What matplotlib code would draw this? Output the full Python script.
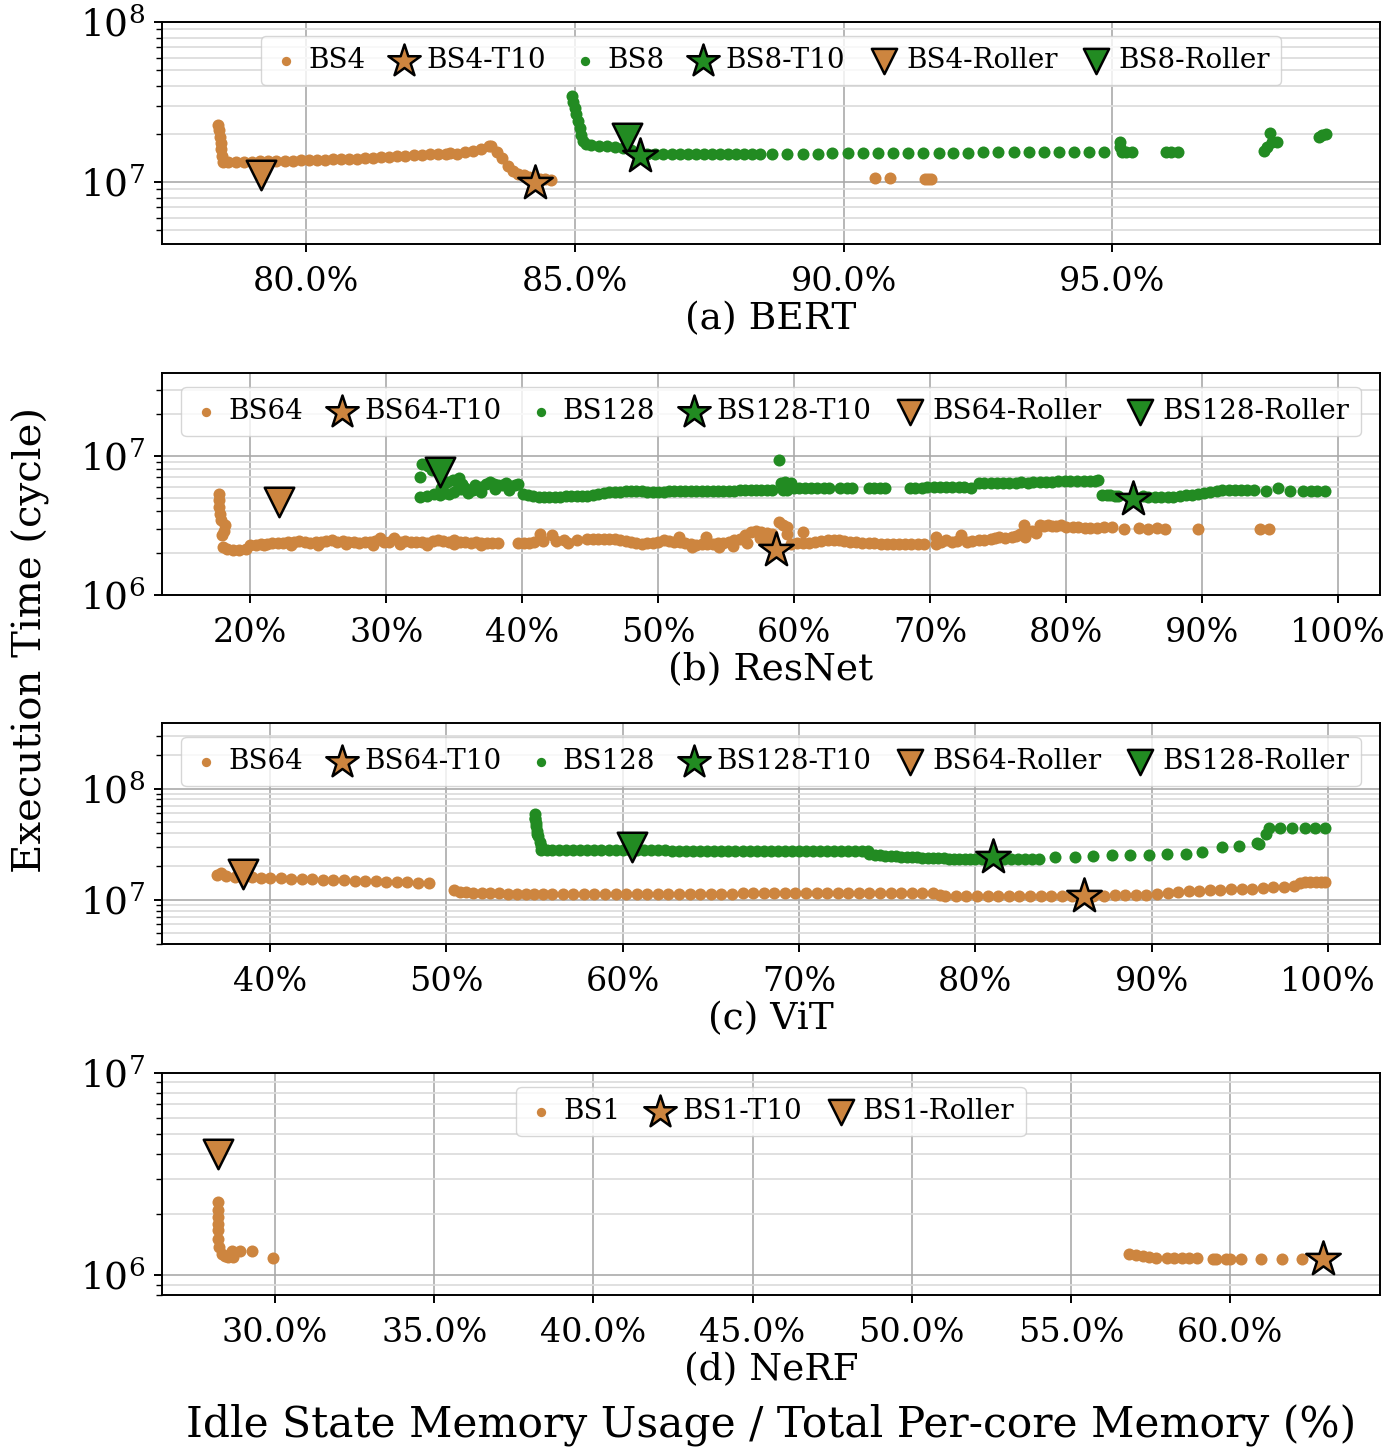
import matplotlib
matplotlib.use("Agg")
import matplotlib.pyplot as plt
from matplotlib.ticker import PercentFormatter, MultipleLocator, LogLocator, LogFormatterMathtext, NullFormatter

plt.rcParams['font.family'] = ['DejaVu Serif']
plt.rcParams['mathtext.fontset'] = 'dejavuserif'

ORANGE = '#CD853F'
GREEN = '#228B22'

# ---------------- (a) BERT ----------------  (y in millions of cycles)
bert_bs4_x = [78.36, 78.38, 78.40, 78.41, 78.42, 78.43, 78.45, 78.55, 78.70, 78.85, 79.00, 79.15, 79.30,
              79.45, 79.60, 79.75, 79.90, 80.05, 80.20, 80.35, 80.50, 80.65, 80.80, 80.95, 81.10, 81.25,
              81.40, 81.55, 81.70, 81.85, 82.00, 82.15, 82.30, 82.45, 82.60, 82.68, 82.80, 82.95, 83.10,
              83.25, 83.40, 83.45, 83.55, 83.65, 83.75, 83.85, 83.95, 84.05, 84.15, 84.25, 84.35, 84.45,
              84.55, 90.58, 90.86, 91.52, 91.58, 91.63]
bert_bs4_y = [22.8, 21.0, 19.2, 17.5, 16.0, 14.6, 13.4, 13.3, 13.35, 13.4, 13.4, 13.45, 13.5,
              13.5, 13.55, 13.6, 13.65, 13.7, 13.75, 13.8, 13.85, 13.9, 13.95, 14.0, 14.1, 14.2,
              14.3, 14.4, 14.5, 14.6, 14.7, 14.8, 14.9, 15.0, 15.05, 15.1, 15.0, 15.3, 15.7,
              16.2, 16.8, 16.9, 15.5, 14.1, 12.6, 11.7, 11.3, 11.0, 10.8, 10.6, 10.5, 10.4,
              10.35, 10.6, 10.6, 10.5, 10.5, 10.5]
bert_bs8_x = [84.94, 84.97, 85.00, 85.03, 85.06, 85.09, 85.12, 85.15, 85.20, 85.30, 85.45, 85.60, 85.75,
              85.90, 86.05, 86.20, 86.35, 86.50, 86.65, 86.80, 86.95, 87.10, 87.25, 87.40, 87.55, 87.70,
              87.85, 88.00, 88.15, 88.30, 88.45, 88.66, 88.95, 89.24, 89.52, 89.79, 90.08, 90.36, 90.64,
              90.92, 91.20, 91.48, 91.77, 92.04, 92.32, 92.60, 92.88, 93.17, 93.45, 93.72, 94.01, 94.29,
              94.56, 94.84, 95.15, 95.15, 95.18, 95.26, 95.37, 95.99, 96.10, 96.22, 97.82, 97.88, 97.94,
              97.97, 98.07, 98.84, 98.91, 98.97]
bert_bs8_y = [34.4, 31.5, 29.0, 26.5, 24.0, 21.8, 19.7, 18.0, 17.2, 17.0, 16.8, 16.7, 16.6,
              16.4, 15.8, 15.1, 15.0, 15.0, 15.0, 15.0, 15.0, 15.0, 15.0, 15.0, 15.0, 15.0,
              15.0, 15.0, 15.0, 15.0, 15.0, 15.0, 15.0, 15.05, 15.05, 15.1, 15.1, 15.1, 15.15,
              15.15, 15.2, 15.2, 15.2, 15.25, 15.25, 15.3, 15.3, 15.3, 15.35, 15.35, 15.4, 15.4,
              15.45, 15.45, 17.9, 16.6, 15.5, 15.5, 15.5, 15.5, 15.5, 15.5, 15.7, 16.6, 20.2,
              17.9, 17.9, 19.2, 19.7, 20.0]
bert_t10_x = [84.26, 86.22]
bert_t10_y = [9.9, 14.6]
bert_roller_x = [79.16, 85.98]
bert_roller_y = [11.1, 18.8]

# ---------------- (b) ResNet ----------------
resnet_bs64_x = [17.66, 17.69, 17.72, 17.78, 17.87, 18.10, 18.08, 17.95, 18.02, 18.30, 18.75, 19.20, 19.65, 20.00,
                 20.4, 20.8, 21.2, 21.6, 22.0, 22.4, 22.8, 23.2, 23.6, 24.0, 24.4, 24.8, 25.2, 25.6, 26.0,
                 26.4, 26.8, 27.2, 27.6, 28.0, 28.4, 28.8, 29.2, 29.5, 29.8, 30.2, 30.6, 31.0, 31.4, 31.8,
                 32.2, 32.6, 33.0, 33.4, 33.8, 34.2, 34.6, 35.0, 35.4, 35.8, 36.2, 36.6, 37.0, 37.4, 37.8, 38.2,
                 21.0, 23.0, 25.0, 27.0, 29.0, 31.0, 33.0, 35.0, 37.0,
                 39.7, 40.1, 40.5, 40.9, 41.28, 41.5, 42.19, 42.5, 43.1, 43.4, 44.0,
                 44.8, 45.2, 45.6, 46.0, 46.4, 46.8, 47.2, 47.6, 48.0, 48.4, 48.8, 49.2, 49.6, 50.0, 50.4,
                 50.8, 51.2, 51.6, 52.0, 52.4, 52.8, 53.2, 53.6, 54.0, 54.4, 54.8, 55.2, 55.6, 56.0, 56.4,
                 56.8, 57.2, 57.6, 58.0, 58.4, 58.9, 59.2, 59.46, 59.46,
                 51.5, 52.5, 53.5, 54.5, 55.5, 56.5, 57.5, 58.0, 58.5,
                 59.8, 60.2, 60.66, 60.66, 61.1, 61.57, 62.0, 62.47, 62.9, 63.3, 63.7, 64.1, 64.58, 65.0,
                 65.48, 65.9, 66.39, 66.8, 67.29, 67.7, 68.19, 68.6, 69.1, 69.55,
                 70.45, 70.45, 70.8, 71.2, 71.6, 72.0, 72.26, 72.7, 73.1, 73.6, 74.0, 74.5, 74.8, 75.1,
                 75.5, 76.0, 76.3, 76.6, 76.9, 77.0, 77.2, 77.5, 77.8, 78.1, 78.4, 78.7, 79.0, 79.3, 79.6,
                 80.0, 80.5, 80.9, 81.4, 81.8, 82.3, 82.8, 83.4, 84.3, 85.4, 86.0, 86.7, 87.3, 89.7,
                 94.25, 94.95]
resnet_bs64_y = [5.37, 4.8, 4.3, 3.85, 3.45, 3.17, 2.9, 2.69, 2.21, 2.13, 2.09, 2.09, 2.13, 2.27,
                 2.30, 2.32, 2.34, 2.36, 2.37, 2.35, 2.40, 2.42, 2.45, 2.40, 2.38, 2.42, 2.40, 2.44, 2.50,
                 2.42, 2.45, 2.42, 2.40, 2.38, 2.42, 2.40, 2.45, 2.55, 2.42, 2.40, 2.55, 2.42, 2.45, 2.40,
                 2.42, 2.40, 2.38, 2.45, 2.48, 2.45, 2.42, 2.48, 2.42, 2.40, 2.38, 2.40, 2.37, 2.37, 2.36, 2.36,
                 2.27, 2.30, 2.30, 2.32, 2.30, 2.32, 2.30, 2.32, 2.30,
                 2.36, 2.37, 2.38, 2.40, 2.76, 2.45, 2.72, 2.45, 2.47, 2.36, 2.47,
                 2.54, 2.54, 2.54, 2.54, 2.52, 2.51, 2.48, 2.45, 2.40, 2.36, 2.34, 2.36, 2.38, 2.42, 2.50,
                 2.45, 2.42, 2.40, 2.36, 2.32, 2.28, 2.32, 2.34, 2.34, 2.36, 2.38, 2.40, 2.48, 2.54, 2.70,
                 2.85, 2.90, 2.85, 2.80, 2.76, 3.35, 3.20, 3.09, 2.76,
                 2.62, 2.22, 2.62, 2.22, 2.25, 2.35, 2.55, 2.45, 2.40,
                 2.34, 2.36, 2.84, 2.36, 2.38, 2.40, 2.44, 2.47, 2.50, 2.48, 2.45, 2.42, 2.40, 2.38,
                 2.36, 2.35, 2.34, 2.33, 2.31, 2.31, 2.31, 2.32, 2.34, 2.34,
                 2.60, 2.34, 2.40, 2.47, 2.40, 2.45, 2.69, 2.40, 2.45, 2.47, 2.50, 2.54, 2.55, 2.60,
                 2.58, 2.60, 2.65, 2.76, 3.17, 2.60, 2.90, 2.90, 2.80, 3.17, 3.15, 3.17, 3.15, 3.12, 3.17,
                 3.10, 3.09, 3.07, 3.05, 3.05, 3.05, 3.07, 3.09, 3.00, 3.05, 3.00, 3.05, 3.00, 3.00,
                 2.97, 2.97]
resnet_bs128_x = [32.46, 32.46, 32.6, 33.07, 33.37, 33.0, 33.5, 33.98, 34.3, 34.6, 34.9, 35.1, 35.35, 35.6,
                  35.8, 36.1, 36.4, 36.7, 37.0, 37.3, 37.6, 37.9, 38.2, 38.5, 38.8, 39.1, 39.45, 39.7,
                  34.0, 35.0, 36.0, 37.0, 38.0, 39.0, 36.5, 34.5, 35.5,
                  40.06, 40.4, 40.8, 41.2, 41.6, 42.0, 42.4, 42.8, 43.2, 43.6, 44.0, 44.4, 44.8, 45.2, 45.6,
                  46.0, 46.4, 46.8, 47.2, 47.6, 48.0, 48.4, 48.8, 49.2, 49.6, 50.0, 50.4, 50.8, 51.2, 51.6,
                  52.0, 52.4, 52.8, 53.2, 53.6, 54.0, 54.4, 54.8, 55.2, 55.6, 56.0, 56.4, 56.8, 57.2, 57.6,
                  58.0, 58.4, 58.9, 59.06, 59.2, 59.3, 59.76, 59.5,
                  60.0, 60.36, 60.8, 61.27, 61.7, 62.17, 62.6, 63.37, 63.9, 64.28, 65.48, 65.9, 66.3, 66.69,
                  68.49, 68.9, 69.4, 69.8, 70.3, 70.7, 71.2, 71.6, 72.1, 72.5, 73.0, 73.6, 74.0, 74.5,
                  74.9, 75.4, 75.8, 76.3, 76.7, 77.2, 77.6, 78.1, 78.5, 79.0, 79.4, 79.9, 80.3, 80.8,
                  81.3, 81.75, 82.1, 82.35,
                  82.65, 83.0, 83.25, 83.6, 83.86, 85.66, 86.0, 86.57, 87.0, 87.47, 87.9, 88.37, 88.8,
                  89.28, 89.7, 90.18, 90.6, 91.08, 91.5, 91.99, 92.4, 92.89, 93.3, 93.8, 94.7, 95.6, 96.5,
                  97.4, 98.0, 98.5, 99.07]
resnet_bs128_y = [5.08, 7.09, 8.7, 8.5, 7.92, 5.15, 5.30, 5.22, 5.45, 5.37, 6.71, 6.6, 6.9, 6.3,
                  5.84, 5.6, 5.68, 5.9, 6.0, 6.3, 6.52, 6.3, 6.15, 6.2, 6.34, 6.1, 6.15, 6.3,
                  5.9, 5.5, 5.4, 5.5, 5.8, 5.7, 6.2, 6.5, 5.8,
                  5.37, 5.2, 5.15, 5.1, 5.08, 5.08, 5.08, 5.1, 5.12, 5.15, 5.15, 5.15, 5.18, 5.22, 5.35,
                  5.45, 5.52, 5.52, 5.55, 5.6, 5.6, 5.6, 5.58, 5.55, 5.52, 5.52, 5.55, 5.58, 5.6, 5.6,
                  5.6, 5.6, 5.6, 5.6, 5.6, 5.6, 5.62, 5.62, 5.62, 5.62, 5.65, 5.65, 5.68, 5.68, 5.68,
                  5.7, 5.7, 9.35, 6.34, 5.68, 6.52, 6.34, 5.7,
                  5.84, 5.84, 5.84, 5.84, 5.84, 5.84, 5.84, 5.84, 5.84, 5.84, 5.84, 5.84, 5.84, 5.84,
                  5.84, 5.9, 5.92, 5.95, 6.0, 6.0, 6.0, 6.0, 6.0, 5.95, 5.84, 6.34, 6.4, 6.43,
                  6.43, 6.43, 6.43, 6.43, 6.45, 6.43, 6.5, 6.52, 6.55, 6.52, 6.6, 6.62, 6.62, 6.62,
                  6.62, 6.62, 6.65, 6.71,
                  5.22, 5.22, 5.22, 5.18, 5.15, 5.15, 5.1, 5.08, 5.1, 5.08, 5.1, 5.15, 5.2,
                  5.22, 5.35, 5.45, 5.55, 5.6, 5.65, 5.68, 5.68, 5.68, 5.68, 5.68, 5.6, 5.84, 5.6,
                  5.6, 5.6, 5.6, 5.6]
resnet_t10_x = [58.64, 84.9]
resnet_t10_y = [2.09, 4.94]
resnet_roller_x = [22.13, 33.92]
resnet_roller_y = [4.63, 7.62]

# ---------------- (c) ViT ----------------
vit_bs64_x = [37.0, 37.2, 37.5, 38.0, 38.5, 39.0, 39.5, 40.0, 40.6, 41.2, 41.8, 42.4, 43.0, 43.6, 44.2,
              44.8, 45.4, 46.0, 46.6, 47.2, 47.8, 48.4, 49.0,
              50.45, 50.8, 51.1, 51.5, 52.0, 52.5, 53.0, 53.5, 54.0, 54.5, 55.0, 55.5, 56.0, 56.6, 57.2,
              57.8, 58.4, 59.0, 59.6, 60.2, 60.8, 61.4, 62.0, 62.6, 63.2, 63.8, 64.4, 65.0, 65.6, 66.2,
              66.8, 67.4, 68.0, 68.6, 69.2, 69.8,
              70.4, 71.0, 71.6, 72.2, 72.8, 73.4, 74.0, 74.6, 75.2, 75.8, 76.4, 77.0, 77.6, 78.0, 78.3,
              78.9, 79.5, 80.1, 80.7, 81.3, 81.9, 82.5, 83.1, 83.7, 84.3, 84.9, 85.5, 86.1, 86.7, 87.3,
              87.9, 88.5, 89.1, 89.7, 90.3, 90.9, 91.5, 92.1, 92.7, 93.3, 93.9, 94.5, 95.1, 95.7, 96.3,
              96.9, 97.5, 98.1, 98.4, 98.7, 99.0, 99.3, 99.6, 99.85]
vit_bs64_y = [16.8, 17.5, 16.5, 16.2, 16.0, 15.9, 15.8, 15.7, 15.6, 15.5, 15.4, 15.3, 15.2, 15.1, 15.0,
              14.9, 14.8, 14.7, 14.6, 14.5, 14.4, 14.3, 14.15,
              12.3, 11.8, 11.65, 11.55, 11.5, 11.45, 11.4, 11.38, 11.35, 11.33, 11.3, 11.3, 11.3, 11.3, 11.3,
              11.3, 11.3, 11.3, 11.3, 11.3, 11.3, 11.3, 11.3, 11.3, 11.3, 11.3, 11.35, 11.35, 11.35, 11.35,
              11.4, 11.4, 11.4, 11.4, 11.4, 11.4,
              11.45, 11.45, 11.45, 11.45, 11.45, 11.45, 11.45, 11.45, 11.45, 11.45, 11.45, 11.45, 11.45, 11.0, 10.75,
              10.75, 10.75, 10.75, 10.75, 10.75, 10.75, 10.8, 10.8, 10.8, 10.8, 10.8, 10.8, 10.8, 10.85, 10.9,
              10.95, 11.0, 11.1, 11.15, 11.2, 11.4, 11.7, 11.9, 12.1, 12.2, 12.3, 12.4, 12.5, 12.6, 12.7,
              12.9, 13.0, 13.2, 14.1, 14.4, 14.45, 14.45, 14.45, 14.45]
vit_bs128_x = [55.06, 55.05, 55.06, 55.08, 55.10, 55.12, 55.15, 55.20, 55.30, 55.35, 55.40, 55.7, 56.0,
               56.4, 56.8, 57.2, 57.6, 58.0, 58.4, 58.8, 59.2, 59.6, 60.0, 60.4, 60.8, 61.2, 61.6, 62.0,
               62.4, 62.8, 63.2, 63.6, 64.0, 64.4, 64.8, 65.2, 65.6, 66.0, 66.4, 66.8, 67.2, 67.6, 68.0,
               68.4, 68.8, 69.2, 69.6, 70.0, 70.4, 70.8, 71.2, 71.6, 72.0, 72.4, 72.8, 73.2, 73.6, 73.9,
               74.0, 74.3, 74.6, 74.9, 75.2, 75.5, 75.8, 76.1, 76.4, 76.7, 77.0, 77.3, 77.6, 77.9, 78.2,
               78.5, 78.8, 79.1, 79.4, 79.7, 80.0, 80.4, 80.8, 81.2, 81.6, 82.0, 82.4, 82.8, 83.2, 83.6,
               84.5, 85.65, 86.7, 87.74, 88.8, 89.84, 90.88, 91.93, 92.86, 94.0, 94.95, 96.0, 96.1, 96.47,
               96.63, 97.28, 97.98, 98.67, 99.26, 99.84]
vit_bs128_y = [58.6, 55.0, 52.8, 49.0, 46.0, 42.0, 39.0, 37.3, 33.0, 30.3, 28.3, 28.2, 28.0,
               28.0, 28.0, 28.0, 27.9, 27.9, 27.9, 27.9, 27.9, 27.9, 27.9, 27.8, 27.8, 27.8, 27.8, 27.8,
               27.8, 27.7, 27.7, 27.7, 27.7, 27.7, 27.6, 27.6, 27.6, 27.6, 27.6, 27.5, 27.5, 27.5, 27.5,
               27.4, 27.4, 27.4, 27.4, 27.4, 27.4, 27.4, 27.4, 27.3, 27.3, 27.3, 27.3, 27.3, 27.2, 27.2,
               25.6, 25.4, 25.2, 25.0, 24.8, 24.6, 24.5, 24.4, 24.2, 24.1, 24.0, 23.9, 23.8, 23.7, 23.6,
               23.5, 23.5, 23.4, 23.4, 23.3, 23.3, 23.3, 23.3, 23.3, 23.3, 23.3, 23.3, 23.3, 23.3, 23.4,
               24.1, 24.3, 24.6, 25.1, 25.5, 25.5, 25.9, 26.0, 26.8, 29.7, 30.3, 32.5, 32.0, 38.7,
               44.4, 44.4, 44.4, 44.4, 44.4, 43.9]
vit_t10_x = [86.16, 81.0]
vit_t10_y = [10.9, 24.3]
vit_roller_x = [38.45, 60.52]
vit_roller_y = [16.9, 30.1]

# ---------------- (d) NeRF ----------------
nerf_bs1_x = [28.22, 28.22, 28.22, 28.22, 28.22, 28.22, 28.23, 28.32, 28.42, 28.53, 28.69, 28.64, 28.9, 29.27,
              29.93, 56.83, 57.04, 57.25, 57.46, 57.67, 58.03, 58.24, 58.5, 58.71, 58.97, 59.45, 59.55,
              59.86, 60.0, 60.33, 60.98, 61.64, 62.27]
nerf_bs1_y = [2.31, 2.10, 1.95, 1.80, 1.67, 1.52, 1.38, 1.28, 1.25, 1.23, 1.23, 1.32, 1.32, 1.32,
              1.22, 1.27, 1.256, 1.24, 1.23, 1.22, 1.22, 1.22, 1.215, 1.215, 1.215, 1.21, 1.21,
              1.21, 1.21, 1.205, 1.20, 1.20, 1.20]
nerf_t10_x = [62.92]
nerf_t10_y = [1.20]
nerf_roller_x = [28.22]
nerf_roller_y = [3.96]

W, H = 1393, 1450
fig = plt.figure(figsize=(W / 100, H / 100), dpi=100)

def mk_ax(top_px, bot_px):
    left = 162 / W
    right = 1380 / W
    return fig.add_axes([left, 1 - bot_px / H, right - left, (bot_px - top_px) / H])

DOT_S = 75
STAR_S = 680
TRI_S = 450
EDGE_LW = 1.8


def style_ax(ax, xlim, ylim, xstep, decimals, xlabel):
    ax.set_yscale('log')
    ax.set_xlim(*xlim)
    ax.set_ylim(*ylim)
    ax.xaxis.set_major_locator(MultipleLocator(xstep))
    ax.xaxis.set_major_formatter(PercentFormatter(xmax=100, decimals=decimals))
    ax.yaxis.set_major_locator(LogLocator(base=10))
    ax.yaxis.set_major_formatter(LogFormatterMathtext())
    ax.yaxis.set_minor_locator(LogLocator(base=10, subs=range(2, 10)))
    ax.yaxis.set_minor_formatter(NullFormatter())
    ax.tick_params(axis='both', which='major', length=6, width=1.4, color='black')
    ax.tick_params(axis='x', which='major', pad=10, labelsize=24)
    ax.tick_params(axis='y', which='major', pad=6, labelsize=27)
    ax.tick_params(axis='y', which='minor', length=4, width=1.0)
    ax.grid(True, which='major', axis='both', color='#aaaaaa', linewidth=1.2)
    ax.grid(True, which='minor', axis='y', color='#dddddd', linewidth=1.3)
    ax.set_axisbelow(True)
    for s in ax.spines.values():
        s.set_linewidth(1.4)
        s.set_color('black')
    ax.set_xlabel(xlabel, fontsize=27, labelpad=2)


def draw(ax, series, t10, rollers, labels):
    handles = []
    for (sx, sy, c), (tx, ty, tc), lab in zip(series, t10, labels):
        h1 = ax.scatter(sx, [v * 1e6 for v in sy], s=DOT_S, color=c, linewidths=0, zorder=3, label=lab)
        h2 = ax.scatter([tx], [ty * 1e6], s=STAR_S, marker='*', facecolor=tc, edgecolor='black',
                        linewidths=EDGE_LW, zorder=5, label=lab + '-T10')
        handles += [h1, h2]
    for (rx, ry, rc), lab in zip(rollers, labels):
        h3 = ax.scatter([rx], [ry * 1e6], s=TRI_S, marker='v', facecolor=rc, edgecolor='black',
                        linewidths=EDGE_LW, zorder=4, label=lab + '-Roller')
        handles.append(h3)
    leg = ax.legend(handles=handles, loc='upper center', ncol=len(handles), fontsize=20,
                    handlelength=1.0, handletextpad=0.3, columnspacing=0.9, borderpad=0.4,
                    framealpha=0.8, edgecolor='0.8')
    for i, h in enumerate(leg.legend_handles):
        if i % 2 == 0 and i < 2 * len(labels):
            h.set_sizes([45])
        elif i < 2 * len(labels):
            h.set_sizes([600])
        else:
            h.set_sizes([330])


# (a)
ax = mk_ax(22, 244)
draw(ax,
     [(bert_bs4_x, bert_bs4_y, ORANGE), (bert_bs8_x, bert_bs8_y, GREEN)],
     [(bert_t10_x[0], bert_t10_y[0], ORANGE), (bert_t10_x[1], bert_t10_y[1], GREEN)],
     [(bert_roller_x[0], bert_roller_y[0], ORANGE), (bert_roller_x[1], bert_roller_y[1], GREEN)],
     ['BS4', 'BS8'])
style_ax(ax, (77.32, 99.98), (4.1e6, 1e8), 5, 1, '(a) BERT')

# (b)
ax = mk_ax(373, 595)
draw(ax,
     [(resnet_bs64_x, resnet_bs64_y, ORANGE), (resnet_bs128_x, resnet_bs128_y, GREEN)],
     [(resnet_t10_x[0], resnet_t10_y[0], ORANGE), (resnet_t10_x[1], resnet_t10_y[1], GREEN)],
     [(resnet_roller_x[0], resnet_roller_y[0], ORANGE), (resnet_roller_x[1], resnet_roller_y[1], GREEN)],
     ['BS64', 'BS128'])
style_ax(ax, (13.5, 103.1), (1e6, 3.95e7), 10, 0, '(b) ResNet')

# (c)
ax = mk_ax(723, 944)
draw(ax,
     [(vit_bs64_x, vit_bs64_y, ORANGE), (vit_bs128_x, vit_bs128_y, GREEN)],
     [(vit_t10_x[0], vit_t10_y[0], ORANGE), (vit_t10_x[1], vit_t10_y[1], GREEN)],
     [(vit_roller_x[0], vit_roller_y[0], ORANGE), (vit_roller_x[1], vit_roller_y[1], GREEN)],
     ['BS64', 'BS128'])
style_ax(ax, (33.88, 102.95), (4.0e6, 3.9e8), 10, 0, '(c) ViT')

# (d)
ax = mk_ax(1073, 1295)
draw(ax,
     [(nerf_bs1_x, nerf_bs1_y, ORANGE)],
     [(nerf_t10_x[0], nerf_t10_y[0], ORANGE)],
     [(nerf_roller_x[0], nerf_roller_y[0], ORANGE)],
     ['BS1'])
style_ax(ax, (26.45, 64.71), (8.0e5, 1e7), 5, 1, '(d) NeRF')

fig.text(0.022, 1 - 640 / H, 'Execution Time (cycle)', rotation=90, fontsize=29,
         ha='center', va='center')
fig.text(771 / W, 1 - 1425 / H, 'Idle State Memory Usage / Total Per-core Memory (%)',
         fontsize=30.5, ha='center', va='center')

fig.savefig('out.png', dpi=100)
